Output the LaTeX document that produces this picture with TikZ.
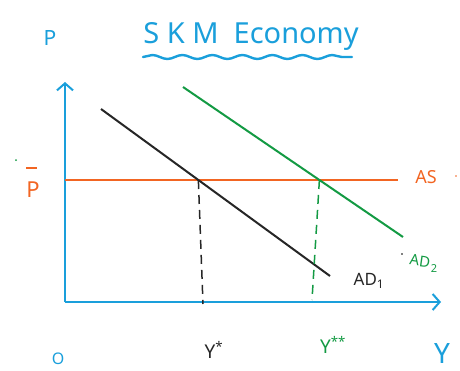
\documentclass[tikz,border=0pt]{standalone}
\usepackage{fontspec}
\setmainfont{Noto Sans}
\usetikzlibrary{arrows.meta,decorations.pathmorphing,intersections}
\definecolor{skblue}{HTML}{1A9FDB}
\definecolor{skorange}{HTML}{F26522}
\definecolor{skgreen}{HTML}{139A43}
\tikzset{
  axis/.style={skblue,line width=2pt,-{Straight Barb[length=7pt,width=16pt,line width=2pt]}},
  curve/.style={line width=2pt},
  guide/.style={line width=1.5pt,dash pattern=on 9pt off 6pt},
  lbl/.style={inner sep=0pt,font=\fontsize{17}{20}\selectfont},
}
\begin{document}
\begin{tikzpicture}[x=1pt,y=-1pt]
\useasboundingbox (0,0) rectangle (460,370);
% title
\node[skblue,inner sep=0pt,font=\fontsize{29}{32}\selectfont] (title) at (251,36) {S K M\ \ Economy};
\coordinate (wl) at (143,57);
\coordinate (wr) at (352,57);
\draw[skblue,line width=2.4pt,line cap=round,decorate,decoration={snake,amplitude=2pt,segment length=30pt}] (wl) -- (wr);
% axes
\coordinate (O) at (65,302);
\coordinate (yt) at (65,82);
\coordinate (xr) at (441,302);
\draw[axis] (O) -- (yt);
\draw[axis] (O) -- (xr);
\node[skblue,lbl,font=\fontsize{21}{24}\selectfont] (P) at (50,38) {P};
\node[skblue,lbl,font=\fontsize{28}{32}\selectfont] (Y) at (442,353) {Y};
\node[skblue,lbl,font=\fontsize{16}{18}\selectfont,anchor=south] (Olab) at (58,365) {O};
% AS
\coordinate (asl) at (65,180);
\coordinate (asr) at (398,180);
\draw[skorange,curve,name path=as] (asl) -- (asr);
\node[skorange,lbl,font=\fontsize{18}{20}\selectfont] (ASl) at (426,177) {AS};
\node[skorange,lbl,font=\fontsize{22}{24}\selectfont] (Pbar) at (33,190) {P};
\coordinate (barl) at (26,168);
\coordinate (barr) at (37,168);
\draw[skorange,line width=1.6pt] (barl) -- (barr);
% AD1
\coordinate (a1s) at (101,109);
\coordinate (a1e) at (330,276);
\draw[black!85,curve,name path=ad1] (a1s) -- (a1e);
\node[black!85,lbl] (AD1l) at (369,281) {AD\textsubscript{1}};
% AD2
\coordinate (a2s) at (183,87);
\coordinate (a2e) at (403,237);
\draw[skgreen,curve,name path=ad2] (a2s) -- (a2e);
\node[skgreen,lbl,font=\fontsize{15}{16}\selectfont,rotate=-8] (AD2l) at (420,261) {AD};
\node[skgreen,lbl,font=\fontsize{11}{12}\selectfont] (AD2s) at (434,269) {2};
% intersections and guides
\path[name intersections={of=as and ad1,by=e1}];
\path[name intersections={of=as and ad2,by=e2}];
\coordinate (f1) at (203,304);
\coordinate (f2) at (312,300);
\draw[black!85,guide] (e1) -- (f1);
\draw[skgreen,guide] (e2) -- (f2);
\node[black!85,lbl,font=\fontsize{19}{22}\selectfont] (Ys) at (214,350) {Y\textsuperscript{*}};
\node[skgreen,lbl,font=\fontsize{19}{22}\selectfont] (Yss) at (333,345) {Y\textsuperscript{**}};
% stray dots
\fill[skgreen] (16,160) circle (1pt);
\fill[black] (402,254) circle (0.8pt);
\fill[skorange] (456,176) circle (0.8pt);
\end{tikzpicture}
\end{document}
